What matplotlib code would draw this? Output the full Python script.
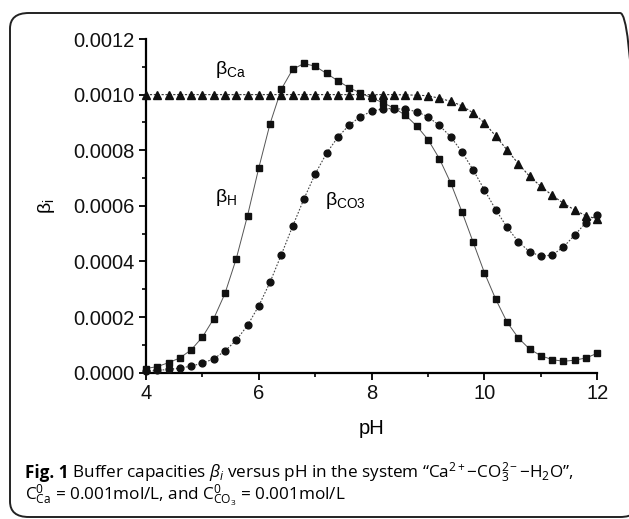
import numpy as np
import matplotlib
matplotlib.use("Agg")
import matplotlib.pyplot as plt
from matplotlib.patches import FancyBboxPatch

plt.rcParams['font.family'] = ['Liberation Sans', 'DejaVu Sans']
plt.rcParams['mathtext.fontset'] = 'custom'
plt.rcParams['mathtext.rm'] = 'Open Sans'
plt.rcParams['mathtext.it'] = 'Open Sans:italic'
plt.rcParams['mathtext.bf'] = 'Open Sans:bold'

# pH grid, step 0.2
ph = [4.0, 4.2, 4.4, 4.6, 4.8, 5.0, 5.2, 5.4, 5.6, 5.8, 6.0, 6.2, 6.4, 6.6, 6.8,
      7.0, 7.2, 7.4, 7.6, 7.8, 8.0, 8.2, 8.4, 8.6, 8.8, 9.0, 9.2, 9.4, 9.6, 9.8,
      10.0, 10.2, 10.4, 10.6, 10.8, 11.0, 11.2, 11.4, 11.6, 11.8, 12.0]

# values in units of 1e-4
beta_h = [0.15, 0.22, 0.36, 0.53, 0.82, 1.28, 1.94, 2.85, 4.10, 5.65, 7.37, 8.96,
          10.2, 10.91, 11.12, 11.02, 10.76, 10.50, 10.25, 10.06, 9.88, 9.71, 9.51,
          9.26, 8.87, 8.38, 7.70, 6.83, 5.79, 4.69, 3.59, 2.64, 1.82, 1.25, 0.85,
          0.61, 0.47, 0.41, 0.45, 0.53, 0.70]
beta_co3 = [0.05, 0.08, 0.12, 0.16, 0.24, 0.34, 0.50, 0.78, 1.17, 1.70, 2.41, 3.26,
            4.25, 5.27, 6.25, 7.15, 7.89, 8.47, 8.90, 9.21, 9.40, 9.49, 9.50, 9.47,
            9.39, 9.20, 8.89, 8.49, 7.94, 7.29, 6.57, 5.86, 5.23, 4.71, 4.35, 4.19,
            4.23, 4.52, 4.95, 5.40, 5.68]
beta_ca = [10.0, 10.0, 10.0, 10.0, 10.0, 10.0, 10.0, 10.0, 10.0, 10.0, 10.0, 10.0,
           10.0, 10.0, 10.0, 10.0, 10.0, 10.0, 10.0, 10.0, 10.0, 10.0, 10.0, 9.99,
           9.98, 9.96, 9.87, 9.76, 9.60, 9.34, 8.98, 8.51, 8.01, 7.52, 7.06, 6.70,
           6.38, 6.09, 5.85, 5.64, 5.53]

x = np.array(ph)
fig = plt.figure(figsize=(6.29, 5.19), dpi=100)

# rounded frame around figure + caption
box = FancyBboxPatch((10 / 629, 2 / 519), 1.0, 1 - 15 / 519,
                     boxstyle="round,pad=0,rounding_size=0.03",
                     transform=fig.transFigure, fill=False,
                     edgecolor='#222222', linewidth=1.4)
fig.patches.append(box)

ax = fig.add_axes([146 / 629, 1 - 372.7 / 519, (597.3 - 146) / 629, (372.7 - 39) / 519])
ax.plot(x, np.array(beta_h) * 1e-4, color='#555555', lw=0.7, ls='-',
        marker='s', ms=4.3, mfc='#111111', mec='#111111', clip_on=False, zorder=3)
ax.plot(x, np.array(beta_co3) * 1e-4, color='#444444', lw=0.8, ls=(0, (1.5, 1.5)),
        marker='o', ms=4.9, mfc='#111111', mec='#111111', clip_on=False, zorder=3)
ax.plot(x, np.array(beta_ca) * 1e-4, color='#333333', lw=0.8, ls=(0, (2, 1.5)),
        marker='^', ms=5.4, mfc='#111111', mec='#111111', clip_on=False, zorder=3)

ax.set_xlim(4, 12)
ax.set_ylim(0, 0.0012)
ax.set_xticks([4, 6, 8, 10, 12])
ax.set_xticks([5, 7, 9, 11], minor=True)
ax.set_yticks([0, 0.0002, 0.0004, 0.0006, 0.0008, 0.0010, 0.0012])
ax.set_yticks([0.0001, 0.0003, 0.0005, 0.0007, 0.0009, 0.0011], minor=True)
ax.set_yticklabels(['0.0000', '0.0002', '0.0004', '0.0006', '0.0008', '0.0010', '0.0012'])
for s in ['top', 'right']:
    ax.spines[s].set_visible(False)
for s in ['left', 'bottom']:
    ax.spines[s].set_linewidth(1.6)
ax.tick_params(which='major', direction='out', length=5, width=1.4, labelsize=14.5,
               colors='#111111', pad=3)
ax.tick_params(which='minor', direction='out', length=3, width=1.2)

ax.set_xlabel('pH', fontsize=14.5, labelpad=12)
ax.set_ylabel('\u03b2$_{\\mathsf{i}}$', fontsize=14, labelpad=12)

ax.text(5.22, 0.00109, '\u03b2$_{\\mathsf{Ca}}$', fontsize=14, va='center')
ax.text(5.22, 0.00063, '\u03b2$_{\\mathsf{H}}$', fontsize=14, va='center')
ax.text(7.17, 0.00062, '\u03b2$_{\\mathsf{CO3}}$', fontsize=14, va='center')
plt.rcParams['mathtext.sf'] = 'Liberation Sans'

cap_font = ['Open Sans', 'DejaVu Sans']
cap_size = 12.3
t1 = fig.text(25 / 629, 1 - 473 / 519, 'Fig. 1', fontsize=cap_size, va='center',
              fontweight='bold', family=cap_font)
fig.text(0, 0, '', fontsize=1)
ax.annotate(' Buffer capacities $\\mathit{\\beta_i}$ versus pH in the system '
            '\u201cCa$^{2+}$\u2212CO$_3^{2\u2212}$\u2212H$_2$O\u201d,',
            xy=(1, 0.5), xycoords=t1, va='center', ha='left',
            fontsize=cap_size, family=cap_font, annotation_clip=False)
fig.text(25 / 629, 1 - 496 / 519,
         'C$_{\\rm Ca}^0$ = 0.001mol/L, and C$_{\\rm CO_3}^0$ = 0.001mol/L',
         fontsize=cap_size, va='center', family=cap_font)

fig.savefig('out.png', dpi=100)
